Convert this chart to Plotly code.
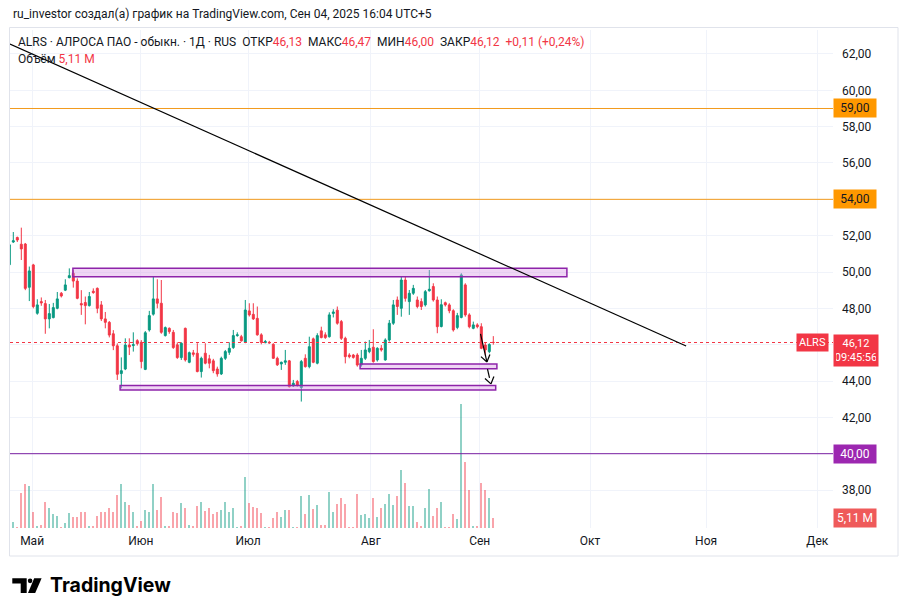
import math
import plotly.graph_objects as go

# ---------------- data (bar index -1 .. 120, daily candles ALRS) ----------------
opens = [50.40, 51.65, 51.90, 51.53, 51.54, 49.16, 50.39, 47.73, 48.37, 48.26,
         47.42, 47.49, 48.00, 48.83, 49.00, 49.69, 49.93, 49.50, 48.26, 48.32,
         48.15, 48.94, 49.10, 48.19, 47.42, 47.23, 46.60, 45.94, 44.41, 44.66,
         45.98, 45.95, 46.22, 46.13, 44.64, 46.81, 47.68, 48.52, 48.28, 46.50,
         46.90, 46.68, 45.99, 45.29, 46.90, 45.03, 45.55, 45.53, 44.52, 45.53,
         45.22, 45.11, 44.66, 44.39, 45.25, 45.58, 45.84, 46.50, 46.44, 46.13,
         47.86, 47.67, 47.45, 46.54, 46.11, 46.13, 46.02, 45.25, 44.94, 45.03,
         45.11, 43.73, 43.97, 43.64, 45.25, 44.79, 46.32, 44.98, 46.76, 46.54,
         46.44, 47.72, 47.90, 47.27, 46.35, 45.43, 45.43, 45.43, 44.88, 45.25,
         45.62, 45.86, 45.16, 45.80, 45.16, 46.26, 47.18, 48.46, 48.00, 49.56,
         48.37, 48.83, 48.46, 48.37, 48.19, 48.97, 49.20, 48.46, 47.00, 48.31,
         48.19, 47.87, 46.95, 47.50, 49.29, 47.64, 46.90, 47.09, 46.99, 45.98,
         45.62, 46.13]
highs = [51.55, 52.20, 51.95, 52.44, 51.60, 50.30, 50.45, 48.50, 48.60, 48.46,
         48.24, 48.30, 48.90, 48.90, 49.60, 50.20, 50.10, 49.65, 49.00, 48.65,
         48.90, 49.10, 49.15, 48.40, 47.80, 47.30, 46.80, 46.07, 45.30, 46.35,
         46.35, 46.68, 46.30, 46.25, 46.75, 47.86, 49.75, 49.60, 49.56, 47.00,
         46.95, 46.81, 46.13, 46.13, 46.94, 45.62, 45.71, 46.08, 45.34, 46.08,
         45.44, 45.22, 44.79, 45.34, 45.71, 46.13, 46.81, 46.68, 46.54, 48.46,
         48.28, 48.28, 48.10, 46.63, 46.26, 46.21, 46.08, 45.34, 45.07, 45.71,
         45.16, 44.06, 44.06, 45.16, 45.47, 46.44, 46.39, 46.63, 46.99, 46.68,
         47.78, 47.95, 48.10, 47.36, 46.44, 45.53, 45.49, 45.53, 45.71, 46.17,
         46.26, 46.85, 45.86, 45.98, 46.35, 47.36, 48.46, 48.65, 49.75, 49.78,
         49.01, 49.29, 48.65, 48.55, 49.01, 50.11, 49.38, 48.65, 48.50, 48.37,
         48.28, 47.95, 47.75, 49.93, 49.38, 47.73, 47.27, 47.18, 47.18, 46.11,
         46.08, 46.47]
lows = [50.30, 51.60, 51.65, 50.66, 49.00, 48.40, 48.00, 47.65, 48.14, 46.60,
        46.90, 47.45, 47.95, 48.60, 48.95, 49.65, 49.14, 48.50, 47.64, 47.12,
        48.10, 48.80, 47.73, 47.30, 46.90, 46.40, 45.70, 44.06, 43.60, 44.60,
        45.43, 45.62, 45.95, 44.70, 44.60, 46.72, 47.60, 48.00, 46.60, 46.45,
        46.60, 45.77, 45.22, 45.16, 45.07, 44.98, 45.34, 44.48, 44.19, 44.92,
        44.70, 44.43, 44.24, 44.33, 45.16, 45.44, 45.77, 46.44, 46.17, 46.08,
        47.55, 47.36, 46.50, 46.02, 46.08, 46.06, 45.22, 44.83, 44.61, 44.89,
        43.64, 43.67, 43.69, 42.87, 44.74, 44.70, 44.98, 44.92, 46.35, 46.32,
        46.39, 47.50, 47.10, 46.26, 44.97, 45.25, 45.23, 44.79, 44.79, 45.16,
        45.53, 45.01, 45.07, 45.62, 45.12, 46.17, 47.09, 47.64, 47.54, 48.37,
        47.64, 48.74, 48.00, 47.91, 48.10, 48.92, 48.37, 46.63, 46.95, 48.10,
        47.73, 46.72, 46.85, 47.45, 47.54, 46.90, 46.85, 46.90, 45.75, 45.43,
        45.53, 46.00]
closes = [51.50, 51.72, 51.76, 51.27, 49.10, 50.06, 48.10, 48.19, 48.30, 47.42,
          47.71, 48.04, 48.52, 48.68, 49.29, 49.80, 49.50, 48.55, 48.19, 48.15,
          48.65, 48.87, 48.00, 47.42, 47.23, 46.53, 45.94, 44.37, 44.57, 45.98,
          45.87, 46.00, 46.06, 45.07, 46.66, 47.60, 48.52, 48.28, 46.68, 46.94,
          46.72, 45.84, 45.29, 46.08, 45.16, 45.56, 45.47, 44.52, 45.25, 44.98,
          44.98, 44.57, 44.39, 45.25, 45.62, 45.80, 46.50, 46.54, 46.21, 47.91,
          47.64, 47.42, 46.54, 46.13, 46.17, 46.10, 45.25, 44.89, 45.03, 45.11,
          43.69, 43.88, 43.75, 45.07, 44.79, 45.89, 45.03, 46.50, 46.39, 46.39,
          47.64, 47.80, 47.18, 46.35, 45.34, 45.34, 45.30, 44.88, 45.25, 45.71,
          45.80, 45.07, 45.80, 45.71, 46.26, 47.18, 48.19, 48.10, 49.56, 48.55,
          48.83, 49.10, 48.10, 48.10, 48.92, 49.05, 48.46, 46.99, 48.20, 48.19,
          47.87, 46.81, 47.60, 49.84, 47.64, 46.99, 47.09, 46.99, 45.80, 45.71,
          46.01, 46.12]
volumes_m = [8.0, 2.8, 0.7, 17.2, 21.4, 20.7, 7.7, 1.2, 1.4, 12.6,
             9.7, 6.7, 5.8, 0.7, 2.4, 7.2, 5.3, 5.6, 7.7, 8.0,
             0.9, 1.2, 6.1, 8.0, 8.0, 10.0, 7.7, 15.9, 21.4, 12.9,
             11.0, 7.7, 0.9, 3.2, 9.0, 8.0, 21.4, 8.9, 15.0, 0.9,
             0.9, 7.7, 7.2, 12.1, 9.7, 1.5, 0.9, 10.7, 12.6, 8.5,
             9.7, 6.9, 7.7, 9.0, 12.9, 7.7, 10.0, 0.7, 0.9, 24.8,
             12.1, 10.2, 9.8, 7.2, 0.4, 0.4, 5.1, 7.6, 5.6, 9.0,
             9.0, 0.7, 0.7, 15.4, 6.7, 15.9, 9.3, 11.0, 1.7, 1.7,
             17.6, 8.0, 11.5, 14.4, 11.8, 0.7, 0.7, 16.8, 6.3, 6.9,
             5.0, 14.4, 5.6, 9.8, 11.5, 16.8, 11.0, 15.4, 28.5, 22.0,
             10.5, 10.5, 2.7, 1.2, 9.8, 19.1, 6.1, 9.8, 12.9, 0.4,
             0.7, 6.6, 4.5, 60.6, 32.4, 18.6, 1.1, 1.1, 22.2, 18.6,
             14.4, 5.11]
bars = list(range(-1, len(opens) - 1))

month_labels = ["Май", "Июн", "Июл", "Авг", "Сен", "Окт", "Ноя", "Дек"]
month_bar_pos = [4.7, 31.9, 58.7, 89.4, 116.6, 144.2, 173.2, 201.0]
price_ticks = [38, 40, 42, 44, 46, 48, 50, 52, 54, 56, 58, 60, 62]

orange_levels = [59.0, 54.0]
purple_levels = [40.0]
# drawn zones: (bar_from, bar_to, price_low, price_high)
zones = [(14.9, 138.4, 49.74, 50.20),
         (26.7, 120.6, 43.50, 43.75),
         (86.7, 120.9, 44.68, 44.93)]
trend_line = [(-0.83, 62.55), (168.2, 45.93)]
arrows = [((116.8, 46.59), (118.4, 45.05), "solid"),
          ((118.55, 44.66), (119.4, 43.84), "dash")]
clock_text = "09:45:56"

# ---------------- layout geometry ----------------
W, H = 908, 616
ML, MR, MT, MB = 10, 75, 30, 88
PW, PH = W - ML - MR, H - MT - MB
XR = [-0.825, -0.825 + PW / 4.0]
YR = [35.91, 63.32]
VR = [0, 243]

UP, DN = "#089981", "#f23645"
TXT = "#131722"
FONT = "Roboto"


def fmt(v):
    return f"{v:.2f}".replace(".", ",")


def px_to_paper(px, py):
    return (px - ML) / PW, (H - MB - py) / PH


fig = go.Figure()

vol_colors = ["rgba(8,153,129,0.45)" if c >= o else "rgba(242,54,69,0.45)"
              for o, c in zip(opens, closes)]
fig.add_trace(go.Bar(x=bars, y=volumes_m, yaxis="y2", width=0.45,
                     marker=dict(color=vol_colors, line=dict(width=0)),
                     hoverinfo="skip", showlegend=False))
fig.add_trace(go.Candlestick(
    x=bars, open=opens, high=highs, low=lows, close=closes,
    increasing=dict(line=dict(color=UP, width=1), fillcolor=UP),
    decreasing=dict(line=dict(color=DN, width=1), fillcolor=DN),
    whiskerwidth=0, showlegend=False, hoverinfo="skip"))

shapes = []
# panel border
x0, y0 = px_to_paper(9.5, 556)
x1, y1 = px_to_paper(898, 27.5)
shapes.append(dict(type="rect", xref="paper", yref="paper", x0=x0, x1=x1, y0=y0, y1=y1,
                   line=dict(color="#e0e3eb", width=1), layer="below"))
for lv in orange_levels:
    shapes.append(dict(type="line", xref="paper", yref="y", x0=0, x1=1, y0=lv, y1=lv,
                       line=dict(color="#f29a1c", width=1)))
for lv in purple_levels:
    shapes.append(dict(type="line", xref="paper", yref="y", x0=0, x1=1, y0=lv, y1=lv,
                       line=dict(color="#7b1fa2", width=1)))
# current price line
shapes.append(dict(type="line", xref="paper", yref="y", x0=0, x1=1,
                   y0=closes[-1], y1=closes[-1],
                   line=dict(color=DN, width=1, dash="dot")))
for (a, b, lo, hi) in zones:
    shapes.append(dict(type="rect", xref="x", yref="y", x0=a, x1=b, y0=lo, y1=hi,
                       fillcolor="rgba(214,150,228,0.40)",
                       line=dict(color="#8e24aa", width=1.5)))
(tx0, ty0), (tx1, ty1) = trend_line
shapes.append(dict(type="line", xref="x", yref="y", x0=tx0, y0=ty0, x1=tx1, y1=ty1,
                   line=dict(color="#000000", width=1.2)))

sx = PW / (XR[1] - XR[0])
sy = PH / (YR[1] - YR[0])
for (s, e, style) in arrows:
    shapes.append(dict(type="line", xref="x", yref="y", x0=s[0], y0=s[1], x1=e[0], y1=e[1],
                       line=dict(color="#000000", width=1.2, dash=style)))
    dxp = (e[0] - s[0]) * sx
    dyp = -(e[1] - s[1]) * sy
    n = math.hypot(dxp, dyp)
    ux, uy = -dxp / n, -dyp / n
    for ang in (math.radians(35), math.radians(-35)):
        hx = ux * math.cos(ang) - uy * math.sin(ang)
        hy = ux * math.sin(ang) + uy * math.cos(ang)
        L = 8
        shapes.append(dict(type="line", xref="x", yref="y", x0=e[0], y0=e[1],
                           x1=e[0] + hx * L / sx, y1=e[1] - hy * L / sy,
                           line=dict(color="#000000", width=1.2)))

# TradingView logo
def pth(pts):
    out = []
    for i, (px, py) in enumerate(pts):
        a, b = px_to_paper(px, py)
        out.append(("M" if i == 0 else "L") + f"{a:.5f},{b:.5f}")
    return " ".join(out) + " Z"

shapes.append(dict(type="path", xref="paper", yref="paper",
                   path=pth([(12.3, 578.3), (26.7, 578.3), (26.7, 593), (20.7, 593),
                             (20.7, 583.6), (12.3, 583.6)]),
                   fillcolor="#000000", line=dict(width=0)))
cx0, cy0 = px_to_paper(27.8, 583.2)
cx1, cy1 = px_to_paper(32.4, 578.4)
shapes.append(dict(type="circle", xref="paper", yref="paper", x0=cx0, y0=cy0, x1=cx1, y1=cy1,
                   fillcolor="#000000", line=dict(width=0)))
shapes.append(dict(type="path", xref="paper", yref="paper",
                   path=pth([(34.2, 578.3), (41.6, 578.3), (35.2, 593), (28.0, 593)]),
                   fillcolor="#000000", line=dict(width=0)))

annotations = []


def ann_px(text, px, py, size=12, color=TXT, xanchor="left", family=FONT, **kw):
    a, b = px_to_paper(px, py)
    annotations.append(dict(text=text, xref="paper", yref="paper", x=a, y=b,
                            xanchor=xanchor, yanchor="middle", showarrow=False,
                            font=dict(size=size, color=color, family=family), **kw))


ann_px("ru_investor создал(а) график на TradingView.com, Сен 04, 2025 16:04 UTC+5", 11, 14)
chg = closes[-1] - closes[-2]
pct = chg / closes[-2] * 100
red = lambda s: f'<span style="color:{DN}">{s}</span>'
sp = "\u00a0\u00a0"
legend = ("ALRS · АЛРОСА ПАО - обыкн. · 1Д · RUS" + sp +
          "ОТКР" + red(fmt(opens[-1])) + sp +
          "МАКС" + red(fmt(highs[-1])) + sp +
          "МИН" + red(fmt(lows[-1])) + sp +
          "ЗАКР" + red(fmt(closes[-1])) + sp +
          red(f"{chg:+.2f}".replace(".", ",") + " (" + f"{pct:+.2f}".replace(".", ",") + "%)"))
ann_px(legend, 16, 42)
ann_px("Объём " + red(fmt(volumes_m[-1]) + "\u00a0M"), 16, 59)
ann_px("<b>TradingView</b>", 48, 585, size=19.5, color="#000000", family="Inter")

# right-axis badges
bx = (833 - ML) / PW
for lv in orange_levels:
    annotations.append(dict(text=fmt(lv), xref="paper", yref="y", x=bx, y=lv,
                            xanchor="left", yanchor="middle", showarrow=False,
                            bgcolor="#ff9800", borderpad=2, width=38,
                            font=dict(size=12, color=TXT, family=FONT)))
for lv in purple_levels:
    annotations.append(dict(text=fmt(lv), xref="paper", yref="y", x=bx, y=lv,
                            xanchor="left", yanchor="middle", showarrow=False,
                            bgcolor="#9c27b0", borderpad=2, width=38,
                            font=dict(size=12, color="#ffffff", family=FONT)))
annotations.append(dict(text=fmt(closes[-1]) + "<br>" + clock_text, xref="paper", yref="y",
                        x=bx, y=closes[-1], xanchor="left", yanchor="top", yshift=9,
                        showarrow=False, bgcolor=DN, borderpad=2, width=40, align="center",
                        font=dict(size=11, color="#ffffff", family=FONT)))
annotations.append(dict(text="ALRS", xref="paper", yref="y", x=(829 - ML) / PW, y=closes[-1],
                        xanchor="right", yanchor="middle", showarrow=False, bgcolor=DN,
                        borderpad=2, font=dict(size=11, color="#ffffff", family=FONT)))
annotations.append(dict(text=fmt(volumes_m[-1]) + "\u00a0M", xref="paper", yref="y2",
                        x=bx, y=volumes_m[-1], xanchor="left", yanchor="middle",
                        showarrow=False, bgcolor="#ef5a5a", borderpad=2, width=38,
                        font=dict(size=12, color="#ffffff", family=FONT)))

# price-scale labels: the one hidden behind the current-price box is left blank
price_tick_text = ["" if abs(t - closes[-1]) < 0.6 else fmt(t) for t in price_ticks]

fig.update_layout(
    width=W, height=H, margin=dict(l=ML, r=MR, t=MT, b=MB),
    paper_bgcolor="#ffffff", plot_bgcolor="#ffffff",
    separators=", ", showlegend=False, bargap=0,
    font=dict(family=FONT, size=12, color=TXT),
    xaxis=dict(range=XR, tickvals=month_bar_pos, ticktext=month_labels,
               showgrid=True, gridcolor="#f0f3fa", gridwidth=1, zeroline=False,
               showline=False, ticks="", rangeslider=dict(visible=False),
               ticklabelstandoff=4,
               tickfont=dict(size=12, color=TXT, family=FONT), fixedrange=True),
    yaxis=dict(range=YR, side="right", tickvals=price_ticks, ticktext=price_tick_text,
               showgrid=True, gridcolor="#f0f3fa", gridwidth=1, zeroline=False,
               showline=False, ticks="", ticklabelstandoff=8,
               tickfont=dict(size=12, color=TXT, family=FONT), fixedrange=True),
    yaxis2=dict(range=VR, overlaying="y", visible=False, fixedrange=True),
    shapes=shapes, annotations=annotations,
)

fig.write_html("out.html")
